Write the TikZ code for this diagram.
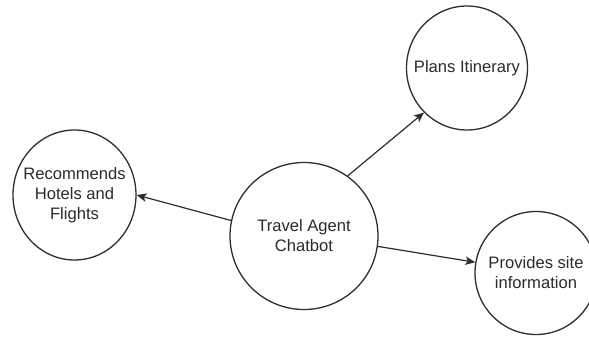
\documentclass[tikz,border=0pt]{standalone}
\usepackage{fontspec}
\setmainfont{Liberation Sans}
\usetikzlibrary{shapes.geometric,arrows.meta}
\definecolor{linegray}{HTML}{2E2E2E}
\definecolor{textgray}{HTML}{2B2B2B}
\begin{document}
\begin{tikzpicture}[x=1pt,y=-1pt,
  bubble/.style={ellipse,draw=linegray,line width=1.3pt,inner sep=0pt},
  lbl/.style={align=center,inner sep=0pt,text=textgray,font=\fontsize{16.6}{20}\selectfont},
  link/.style={draw=linegray,line width=1.2pt,-{Stealth[length=10pt,width=8.5pt,inset=2.5pt]}}]
\fill[white] (0,0) rectangle (589,338);
\clip (0,0) rectangle (589,338);
\node[bubble,minimum width=148pt,minimum height=147pt,
  label={[lbl]center:{Travel Agent\\Chatbot}}] (c) at (304,236) {};
\node[bubble,minimum width=121pt,minimum height=124pt,
  label={[lbl]center:{Plans Itinerary}}] (p) at (467,68) {};
\node[bubble,minimum width=123pt,minimum height=130pt,
  label={[lbl]center:{Recommends\\Hotels and\\Flights}}] (r) at (74.5,195) {};
\node[bubble,minimum width=122pt,minimum height=123pt,
  label={[lbl]center:{Provides site\\information}}] (s) at (536,273) {};
\draw[link] (c.168) -- (r.0);
\draw[link] (c.54) -- (p.226);
\draw[link] (c.-8.5) -- (s.170);
\end{tikzpicture}
\end{document}
